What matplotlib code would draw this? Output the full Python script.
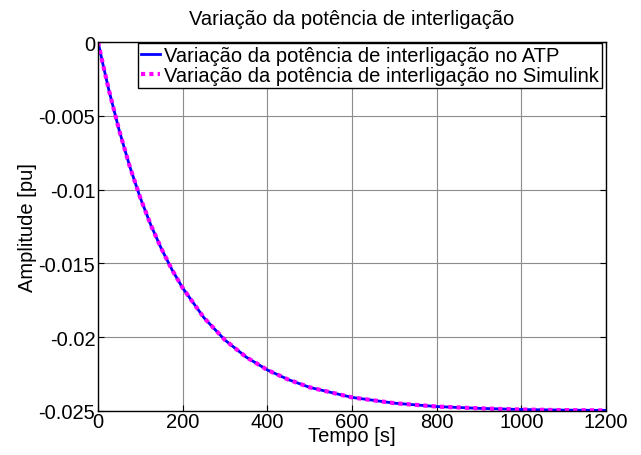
import matplotlib
matplotlib.use('Agg')
import matplotlib.pyplot as plt

# valores (tempo em s, amplitude em pu)
tempo = [0, 10, 25, 50, 75, 100, 125, 150, 175, 200, 250, 300, 350, 400,
         450, 500, 600, 700, 800, 900, 1000, 1100, 1200]
atp = [0, -0.00132, -0.0032, -0.0060, -0.00845, -0.01058, -0.01243, -0.01403,
       -0.01545, -0.01667, -0.01868, -0.0202, -0.02135, -0.02222,
       -0.02288, -0.0234, -0.02408, -0.02447, -0.0247, -0.02482, -0.0249,
       -0.02494, -0.02496]
simulink = [0, -0.00132, -0.0032, -0.0060, -0.00845, -0.01058, -0.01243, -0.01403,
            -0.01545, -0.01667, -0.01868, -0.0202, -0.02135, -0.02222,
            -0.02288, -0.0234, -0.02408, -0.02447, -0.0247, -0.02482, -0.0249,
            -0.02494, -0.02496]

xticks = [0, 200, 400, 600, 800, 1000, 1200]
yticks = [0, -0.005, -0.01, -0.015, -0.02, -0.025]
ylabels = ['0', '-0.005', '-0.01', '-0.015', '-0.02', '-0.025']

plt.rcParams['font.family'] = ['Liberation Sans', 'DejaVu Sans']
plt.rcParams['font.size'] = 14.5

fig = plt.figure(figsize=(6.41, 4.56), dpi=100)
ax = fig.add_axes([0.153, 0.0965, 0.7925, 0.8092])

ax.plot(tempo, atp, color='#0000ff', lw=2, label='Variação da potência de interligação no ATP')
ax.plot(tempo, simulink, color='#ff00ff', lw=3, ls=(0, (1, 1)),
        label='Variação da potência de interligação no Simulink')

ax.set_xlim(0, 1200)
ax.set_ylim(-0.025, 0)
ax.set_xticks(xticks)
ax.set_yticks(yticks)
ax.set_yticklabels(ylabels)
ax.tick_params(direction='in', length=4, pad=2, top=True, right=True)
ax.tick_params(axis='x', pad=1)
ax.grid(True, color='#8c8c8c', lw=0.8)
for s in ax.spines.values():
    s.set_linewidth(1)

ax.set_xlabel('Tempo [s]', labelpad=-4)
ax.set_ylabel('Amplitude [pu]', labelpad=1)
ax.set_title('Variação da potência de interligação', fontsize=14.5, pad=13)

leg = ax.legend(loc='upper right', bbox_to_anchor=(0.992, 0.997), borderaxespad=0,
                fancybox=False, framealpha=1, edgecolor='black',
                borderpad=0.15, labelspacing=0.05, handlelength=0.95, handletextpad=0.2,
                fontsize=14.5)
leg.get_frame().set_linewidth(1)

fig.savefig('out.png', dpi=100)
